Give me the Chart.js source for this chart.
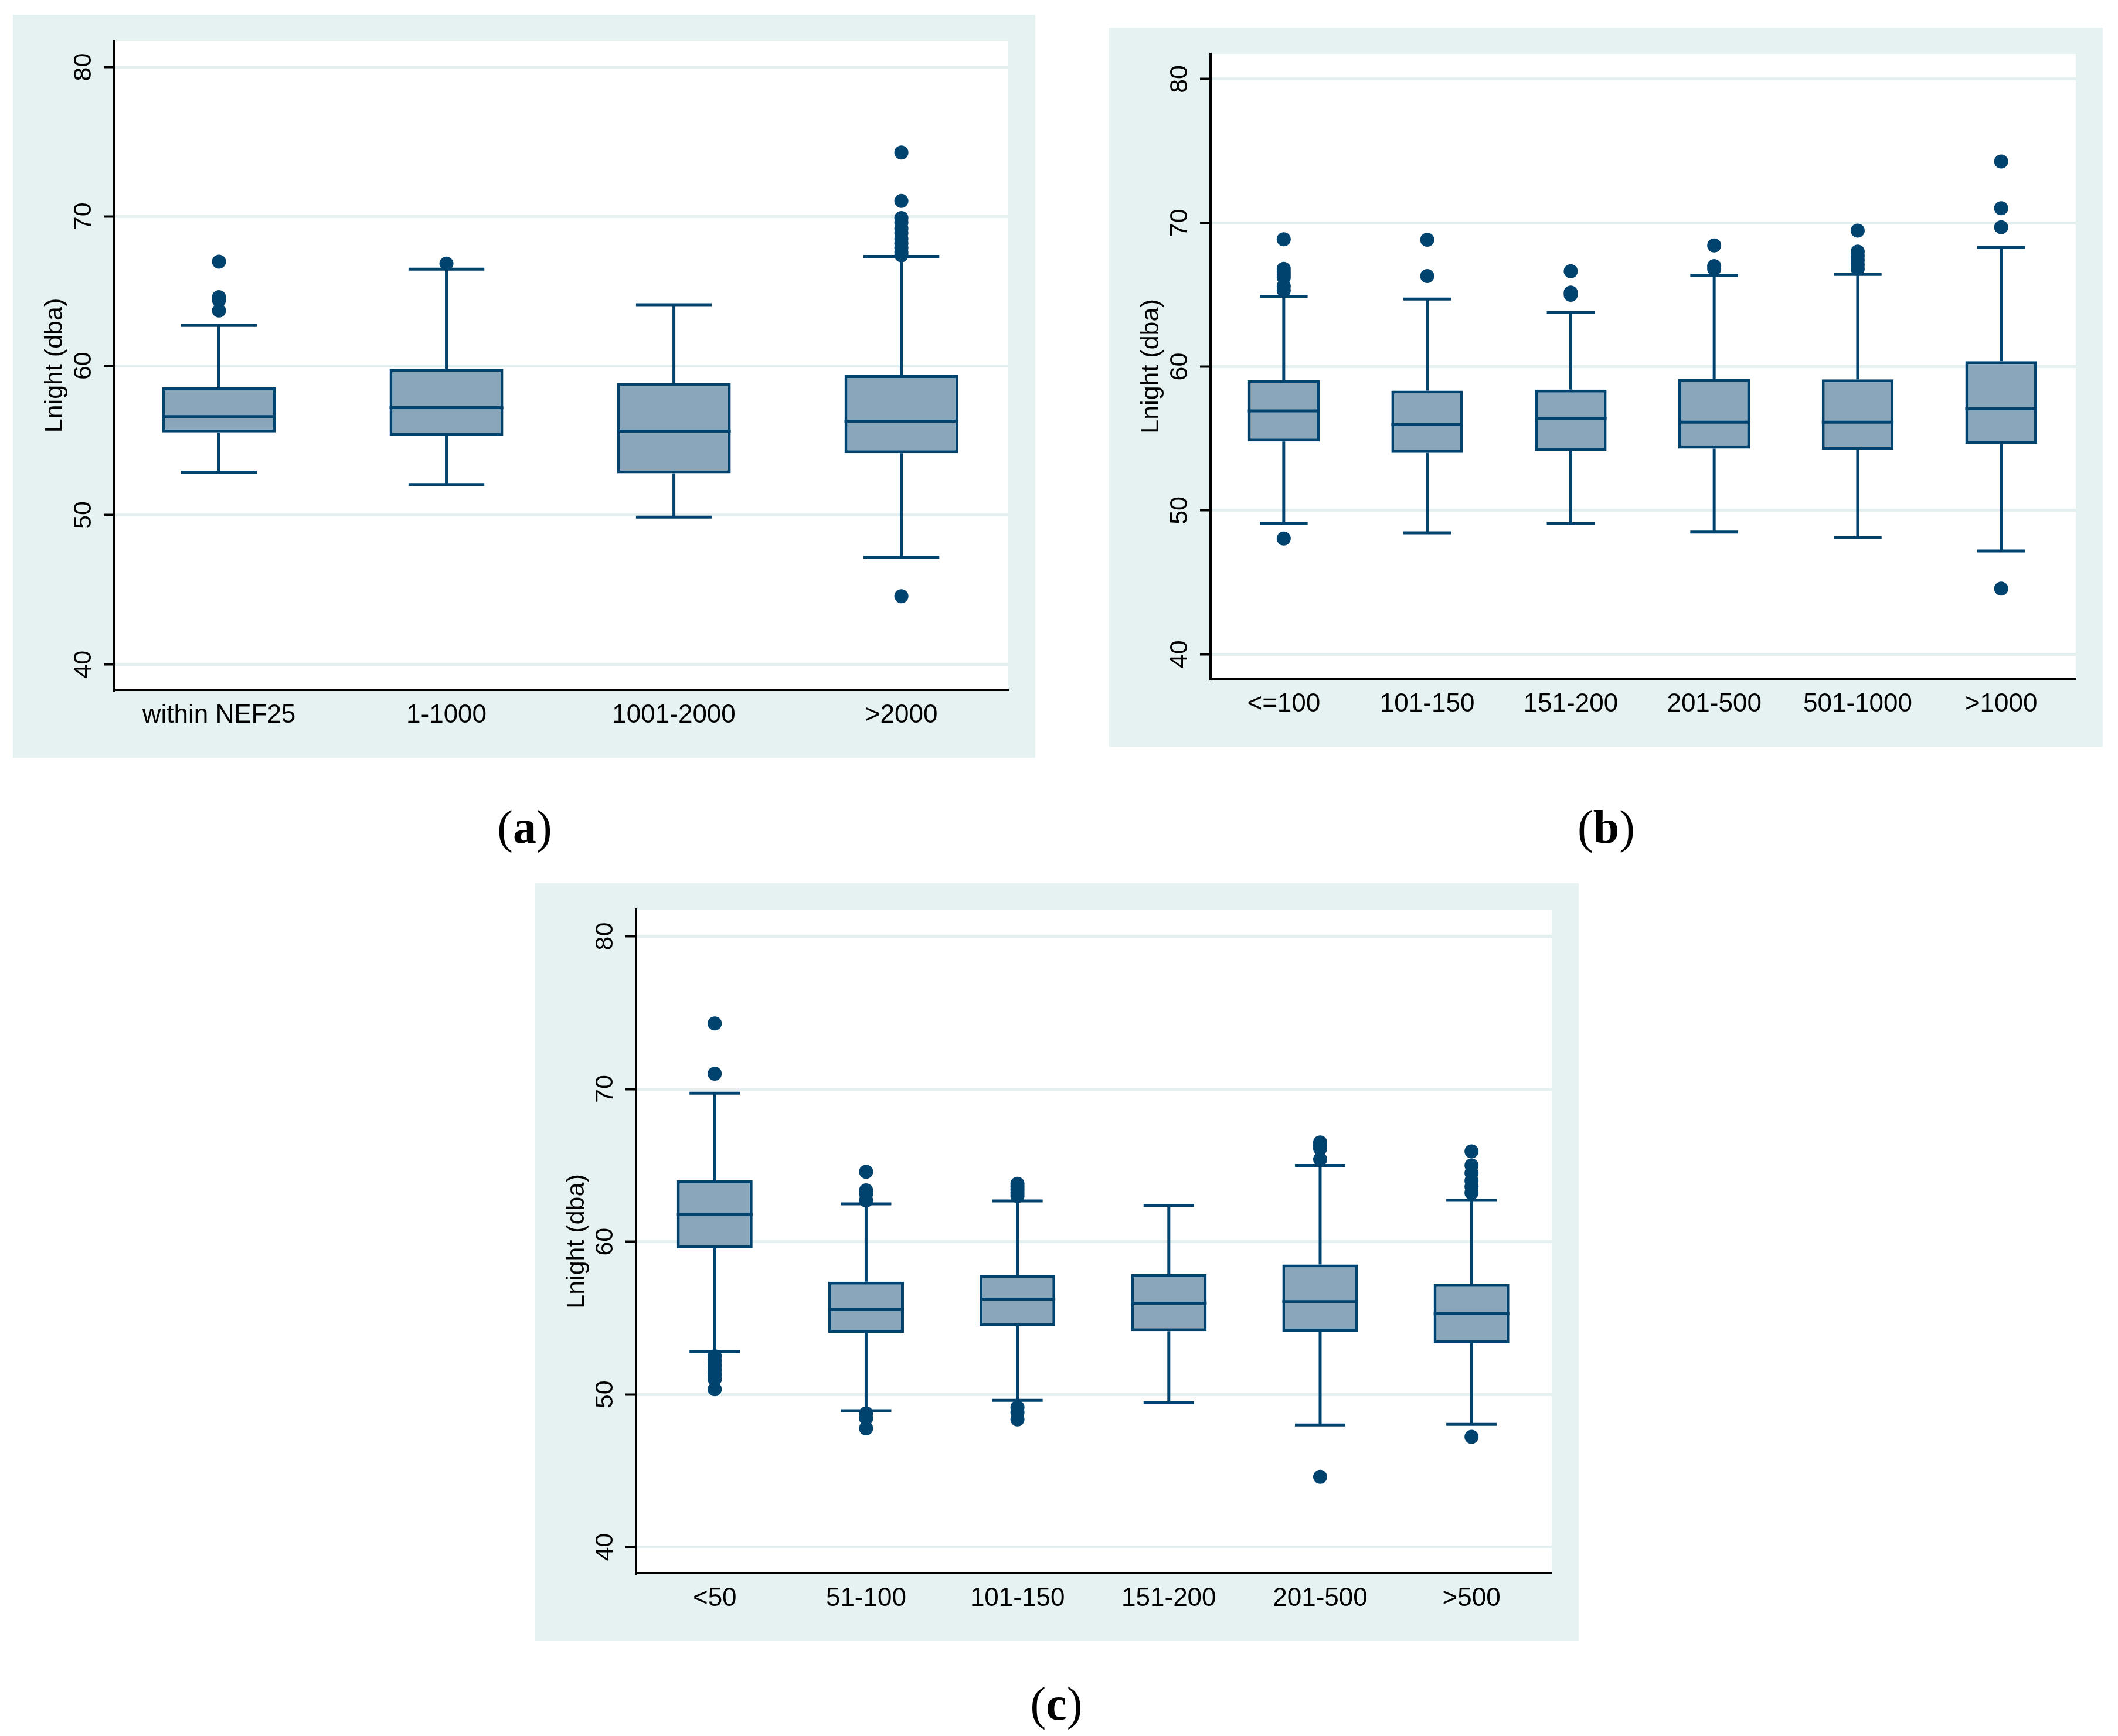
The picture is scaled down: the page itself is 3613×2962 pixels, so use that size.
<!DOCTYPE html>
<html>
<head>
<meta charset="utf-8">
<title>Lnight box plots</title>
<script src="https://cdn.jsdelivr.net/npm/chart.js@4.4.0/dist/chart.umd.min.js"></script>
<style>
    body { margin: 0; width: 3613px; height: 2962px; background: #fff; position: relative; overflow: hidden; }
    .panel { position: absolute; }
    .panel canvas { display: block; }
    .cap { position: absolute; width: 400px; text-align: center; font-family: "Liberation Serif", "DejaVu Serif", serif;
           font-size: 80px; line-height: 100px; color: #000; }
</style>
</head>
<body>
<div class="panel" style="left:22px;top:25px"><canvas id="chartA" width="1744" height="1268"></canvas></div>
<div class="panel" style="left:1892px;top:47px"><canvas id="chartB" width="1695" height="1227"></canvas></div>
<div class="panel" style="left:912px;top:1507px"><canvas id="chartC" width="1781" height="1293"></canvas></div>
<div class="cap" style="left:695px;top:1361px">(<b>a</b>)</div>
<div class="cap" style="left:2540px;top:1361px">(<b>b</b>)</div>
<div class="cap" style="left:1602px;top:2857px">(<b>c</b>)</div>

<script>
// ---- data (dBA) ----
const yTicks = [40, 50, 60, 70, 80];

// (a) distance to NEF25 contour
const groupsA = ["within NEF25", "1-1000", "1001-2000", ">2000"];
const q1A   = [55.54, 55.3, 52.8, 54.15];
const medA  = [56.6, 57.2, 55.63, 56.3];
const q3A   = [58.55, 59.8, 58.85, 59.38];
const lowA  = [52.88, 52.05, 49.87, 47.18];
const highA = [62.7, 66.47, 64.09, 67.33];
const outA  = [
    [66.97, 64.6, 64.4, 63.7],
    [66.84],
    [],
    [74.28, 71.04, 69.9, 69.6, 69.2, 68.9, 68.5, 68.2, 67.9, 67.6, 67.4, 44.57]
];

// (b)
const groupsB = ["<=100", "101-150", "151-200", "201-500", "501-1000", ">1000"];
const q1B   = [54.8, 54.0, 54.15, 54.3, 54.22, 54.62];
const medB  = [56.93, 55.97, 56.4, 56.14, 56.14, 57.07];
const q3B   = [59.06, 58.33, 58.4, 59.15, 59.12, 60.38];
const lowB  = [49.1, 48.45, 49.08, 48.5, 48.1, 47.19];
const highB = [64.9, 64.7, 63.76, 66.35, 66.41, 68.3];
const outB  = [
    [68.86, 66.8, 66.6, 66.4, 66.2, 65.6, 65.3, 48.05],
    [68.83, 66.3],
    [66.64, 65.15, 65.0],
    [68.43, 67.0, 66.8],
    [69.46, 68.0, 67.7, 67.4, 67.1, 66.8],
    [74.27, 71.02, 69.7, 44.57]
];

// (c)
const groupsC = ["<50", "51-100", "101-150", "151-200", "201-500", ">500"];
const q1C   = [59.56, 54.04, 54.47, 54.14, 54.11, 53.35];
const medC  = [61.79, 55.55, 56.24, 55.98, 56.08, 55.29];
const q3C   = [64.02, 57.39, 57.82, 57.88, 58.51, 57.23];
const lowC  = [52.8, 48.93, 49.61, 49.45, 48.0, 48.04];
const highC = [69.73, 62.48, 62.67, 62.38, 65.0, 62.71];
const outC  = [
    [74.29, 71.0, 52.5, 52.2, 51.9, 51.6, 51.3, 51.0, 50.34],
    [64.58, 63.36, 63.13, 62.7, 48.76, 48.43, 47.78],
    [63.8, 63.6, 63.4, 63.2, 63.0, 49.15, 48.83, 48.37],
    [],
    [66.5, 66.3, 66.1, 65.4, 44.6],
    [65.92, 65.0, 64.5, 64.0, 63.6, 63.2, 47.22]
];

const NAVY = "#00436f";
const FILL = "#89a6ba";
const PANEL_BG = "#e6f1f1";
const GRID = "#e4efef";

Chart.defaults.font.family = "'Liberation Sans', Arial, sans-serif";
Chart.defaults.color = "#000";

// panel + plot backgrounds
const backgroundPlugin = {
    id: "panelBg",
    beforeDraw(chart) {
        const ctx = chart.ctx, a = chart.chartArea;
        ctx.save();
        ctx.fillStyle = PANEL_BG;
        ctx.fillRect(0, 0, chart.width, chart.height);
        ctx.fillStyle = "#fff";
        ctx.fillRect(a.left, a.top, a.right - a.left, a.bottom - a.top);
        ctx.restore();
    }
};

// whiskers, caps and median lines on top of the boxes
const whiskerPlugin = {
    id: "boxWhiskers",
    afterDatasetDraw(chart, args, opts) {
        if (args.meta.type !== "bar") return;
        const xs = chart.scales.x, ys = chart.scales.y, ctx = chart.ctx;
        ctx.save();
        ctx.strokeStyle = NAVY;
        ctx.lineWidth = 5;
        ctx.lineCap = "butt";
        function seg(x1, y1, x2, y2) {
            ctx.beginPath(); ctx.moveTo(x1, y1); ctx.lineTo(x2, y2); ctx.stroke();
        }
        opts.med.forEach(function (m, i) {
            const cx = xs.getPixelForValue(i);
            const capHalf = xs.getPixelForValue(i + 1 / 6) - cx;
            const boxHalf = args.meta.data[i].width / 2;
            const yq1 = ys.getPixelForValue(opts.q1[i]);
            const yq3 = ys.getPixelForValue(opts.q3[i]);
            const yHi = ys.getPixelForValue(opts.high[i]);
            const yLo = ys.getPixelForValue(opts.low[i]);
            seg(cx, yq3, cx, yHi);
            seg(cx - capHalf, yHi, cx + capHalf, yHi);
            seg(cx, yq1, cx, yLo);
            seg(cx - capHalf, yLo, cx + capHalf, yLo);
            const ym = ys.getPixelForValue(m);
            seg(cx - boxHalf, ym, cx + boxHalf, ym);
        });
        ctx.restore();
    }
};

function makeBoxChart(id, groups, q1, med, q3, low, high, outliers, xMin, xMax) {
    let outPts = [];
    outliers.forEach(function (arr, i) {
        arr.forEach(function (v) { outPts.push({ x: i, y: v }); });
    });

    new Chart(document.getElementById(id), {
        type: "bar",
        data: {
            datasets: [
                {
                    type: "bar",
                    data: groups.map(function (g, i) { return { x: i, y: [q1[i], q3[i]] }; }),
                    backgroundColor: FILL,
                    borderColor: NAVY,
                    borderWidth: 5,
                    borderSkipped: false,
                    barPercentage: 0.5,
                    categoryPercentage: 1,
                    order: 2
                },
                {
                    type: "scatter",
                    data: outPts,
                    pointRadius: 12,
                    pointBackgroundColor: NAVY,
                    pointBorderWidth: 0,
                    order: 1
                }
            ]
        },
        options: {
            responsive: false,
            animation: false,
            devicePixelRatio: 1,
            layout: { padding: { left: 0, top: 45, right: 46, bottom: 0 } },
            plugins: {
                legend: { display: false },
                tooltip: { enabled: false },
                boxWhiskers: { q1: q1, med: med, q3: q3, low: low, high: high }
            },
            scales: {
                x: {
                    type: "linear",
                    min: xMin,
                    max: xMax,
                    offset: false,
                    afterBuildTicks: function (s) { s.ticks = groups.map(function (g, i) { return { value: i }; }); },
                    afterFit: function (s) { s.height = 116; },
                    ticks: {
                        callback: function (v) { return groups[v]; },
                        font: { size: 44 },
                        color: "#000",
                        padding: 17,
                        maxRotation: 0,
                        autoSkip: false
                    },
                    grid: { display: true, color: "rgba(0,0,0,0)", drawTicks: false, offset: false },
                    border: { display: true, color: "#000", width: 4 }
                },
                y: {
                    min: 38.3,
                    max: 81.75,
                    afterBuildTicks: function (s) { s.ticks = yTicks.map(function (v) { return { value: v }; }); },
                    afterFit: function (s) { s.width = 173; },
                    ticks: {
                        font: { size: 43 },
                        color: "#000",
                        minRotation: 90,
                        maxRotation: 90,
                        crossAlign: "center",
                        padding: 10,
                        autoSkip: false
                    },
                    grid: { color: GRID, lineWidth: 5, tickColor: "#000", tickLength: 18, tickWidth: 4 },
                    border: { display: true, color: "#000", width: 4 },
                    title: {
                        display: true,
                        text: "Lnight (dba)",
                        font: { size: 43 },
                        color: "#000",
                        padding: { top: 46, bottom: 0 }
                    }
                }
            }
        },
        plugins: [backgroundPlugin, whiskerPlugin]
    });
}

makeBoxChart("chartA", groupsA, q1A, medA, q3A, lowA, highA, outA, -0.46, 3.47);
makeBoxChart("chartB", groupsB, q1B, medB, q3B, lowB, highB, outB, -0.51, 5.52);
makeBoxChart("chartC", groupsC, q1C, medC, q3C, lowC, highC, outC, -0.52, 5.53);
</script>
</body>
</html>
